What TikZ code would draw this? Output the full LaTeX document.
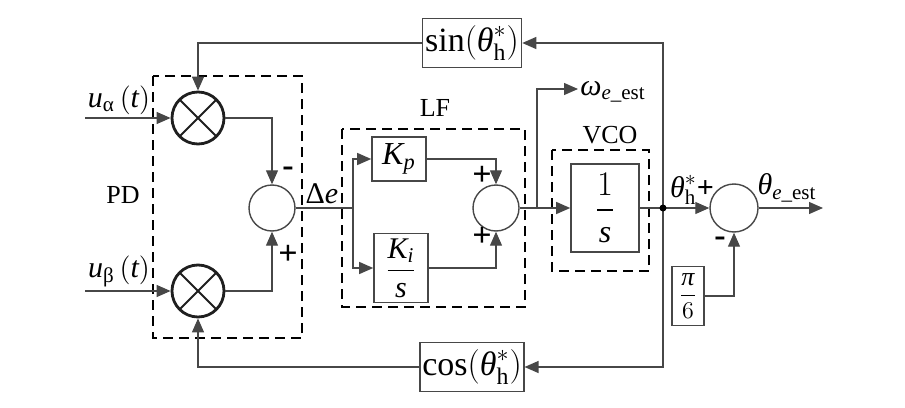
\documentclass[tikz,border=0pt]{standalone}
\usepackage{amsmath}
\usepackage{fontspec}
\setmainfont{Liberation Serif}
\usetikzlibrary{arrows.meta, positioning, calc}

\newcommand{\thh}{\text{\itshape θ}^{*}_{\text{h}}}
\newcommand{\est}{\mathit{e}\text{\_est}}

\begin{document}
\begin{tikzpicture}[x=0.5pt, y=-0.5pt,
    line/.style={draw=black!72, line width=0.6pt},
    arr/.style={line, -{Triangle[length=7pt, width=6pt]}},
    mult/.style={circle, draw=black!88, line width=1.4pt, minimum size=26pt, inner sep=0pt,
        path picture={\draw[line width=0.9pt, black!88]
            (path picture bounding box.north west) -- (path picture bounding box.south east)
            (path picture bounding box.north east) -- (path picture bounding box.south west);}},
    sumc/.style={circle, draw=black!72, line width=0.7pt, minimum size=23pt, inner sep=0pt},
    blk/.style={draw=black!72, line width=0.8pt, fill=white, inner sep=1pt},
    dbox/.style={draw=black, line width=1pt, dash pattern=on 5pt off 3pt},
    txt/.style={font=\fontsize{13}{15}\selectfont, inner sep=0pt},
    mth/.style={font=\fontsize{15}{17}\selectfont, inner sep=0pt},
    sgn/.style={font=\fontsize{17}{19}\selectfont\bfseries, inner sep=0pt}
]
    \useasboundingbox (0,0) rectangle (905,407);

    % phase detector
    \draw[dbox] (153,76) rectangle (302,338);
    \node[txt] (pd) at (123,195) {PD};
    \coordinate (ua) at (85,118);
    \coordinate (ub) at (85,291);
    \node[mth] (ual) at (119,100) {$\mathit{u}_{\text{α}}\,(\mathit{t})$};
    \node[mth] (ubl) at (119,271) {$\mathit{u}_{\text{β}}\,(\mathit{t})$};
    \node[mult] (ma) at (198,118) {};
    \node[mult] (mb) at (198,291) {};
    \node[sumc] (s1) at (272,208) {};
    \node[sgn] (s1m) at (288,172) {-};
    \node[sgn] (s1p) at (288,255) {+};
    \node[mth] (de) at (322,194) {$\text{Δ}\mathit{e}$};

    % loop filter
    \draw[dbox] (342,129) rectangle (525,307);
    \node[txt] (lf) at (435,108) {LF};
    \coordinate (br1) at (353,208);
    \node[blk, minimum width=27pt, minimum height=22pt, font=\fontsize{16}{18}\selectfont] (kp) at (399,159) {$\mathit{K}_{\mathit{p}}$};
    \node[blk, minimum width=27pt, minimum height=34.5pt, font=\fontsize{15}{17}\selectfont] (ki) at (401,268) {$\dfrac{\mathit{K}_{\mathit{i}}}{\mathit{s}}$};
    \node[sumc] (s2) at (496,208) {};
    \node[sgn] (s2a) at (482,176) {+};
    \node[sgn] (s2b) at (482,237) {+};

    % vco
    \draw[dbox] (552,150) rectangle (649,271);
    \node[txt] (vcol) at (610,135) {VCO};
    \node[blk, minimum width=34pt, minimum height=44pt, font=\fontsize{16}{18}\selectfont] (vco) at (605,208) {$\dfrac{1}{\mathit{s}}$};
    \coordinate (br2) at (537,208);
    \coordinate (om) at (578,89);
    \node[mth, anchor=west] (oml) at (580,92) {$\text{\itshape ω}_{\est}$};

    % output side
    \coordinate (j) at (663,208);
    \node[sumc, minimum size=24pt] (s3) at (734,208) {};
    \node[mth] (thl) at (692,190) {$\thh$\textbf{+}};
    \node[sgn] (s3m) at (720,242) {-};
    \node[blk, minimum width=16pt, minimum height=29.5pt, font=\fontsize{13}{15}\selectfont] (pi6) at (688,296) {$\dfrac{\text{\itshape π}}{6}$};
    \coordinate (out) at (823,208);
    \node[mth] (thel) at (787,188) {$\text{\itshape θ}_{\est}$};

    % feedback
    \node[blk, minimum width=49.5pt, minimum height=24.5pt, font=\fontsize{17}{19}\selectfont] (sinb) at (472,43) {$\sin(\thh)$};
    \node[blk, minimum width=49.5pt, minimum height=24.5pt, font=\fontsize{17}{19}\selectfont] (cosb) at (472,367) {$\cos(\thh)$};

    \draw
    (ua) edge[arr] (ma)
    (ub) edge[arr] (mb)
    (s2) edge[arr] (vco)
    (j) edge[arr] (s3)
    (s3) edge[arr] (out);
    \draw[line] (s1.east) -- (br1);
    \draw[line] (vco.east) -- (j);
    \draw[arr] (sinb.west) -| (ma.north);
    \draw[arr] (cosb.west) -| (mb.south);
    \draw[arr] (ma.east) -| (s1.north);
    \draw[arr] (mb.east) -| (s1.south);
    \draw[arr] (br1) |- (kp.west);
    \draw[arr] (br1) |- (ki.west);
    \draw[arr] (kp.east) -| (s2.north);
    \draw[arr] (ki.east) -| (s2.south);
    \draw[arr] (br2) |- (om);
    \draw[arr] (j) |- (sinb.east);
    \draw[arr] (j) |- (cosb.east);
    \draw[arr] (pi6.east) -| (s3.south);
    \fill[black] (j) circle (3.5);
\end{tikzpicture}
\end{document}
